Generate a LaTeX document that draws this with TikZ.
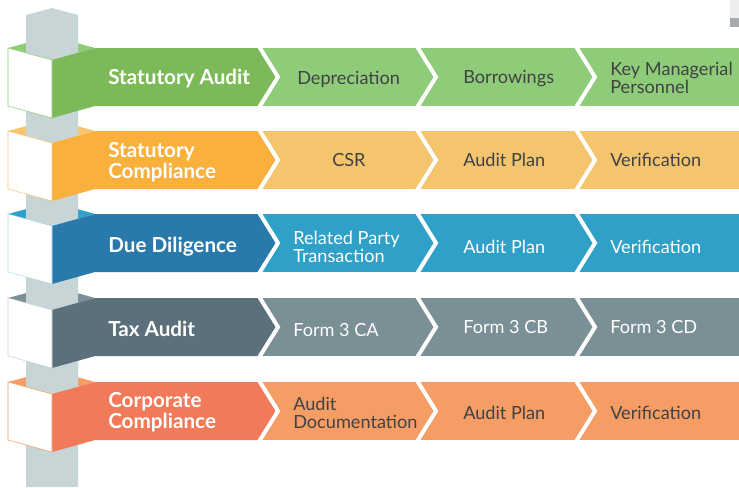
\documentclass[tikz,border=0pt]{standalone}
\usepackage{fontspec}
\setmainfont{Lato}
\definecolor{pillar}{RGB}{199,213,215}
\definecolor{grnD}{RGB}{124,186,89}
\definecolor{grnL}{RGB}{143,204,121}
\definecolor{orgD}{RGB}{249,176,60}
\definecolor{orgL}{RGB}{245,197,110}
\definecolor{bluD}{RGB}{41,122,170}
\definecolor{bluL}{RGB}{47,160,200}
\definecolor{slaD}{RGB}{91,112,122}
\definecolor{slaL}{RGB}{122,143,150}
\definecolor{corD}{RGB}{241,122,90}
\definecolor{corL}{RGB}{246,157,101}
\definecolor{txtgray}{RGB}{64,66,68}
\begin{document}
\begin{tikzpicture}[x=0.75pt,y=0.75pt,yscale=-1,xscale=1,
  mainlbl/.style={anchor=west,inner sep=0.75pt,align=left,text=white,font=\fontsize{15.5}{15.5}\selectfont\bfseries},
  sublbl/.style={anchor=west,inner sep=0.75pt,align=left,text=txtgray,font=\fontsize{13.6}{13.8}\selectfont},
  cutline/.style={draw=white,line width=3pt}]
\path[use as bounding box] (0,0) rectangle (739,487);

%Shape: Rectangle (top right corner)
\fill [color={rgb, 255:red, 238; green, 238; blue, 238 }] (730,0) rectangle (739,18) ;
\fill [color={rgb, 255:red, 167; green, 171; blue, 173 }] (730,18) rectangle (739,27) ;

%Shape: Top faces
\fill [grnL] (8,48) -- (52,36) -- (95,48) -- (52,60) -- cycle ;
\fill [orgL] (8,131) -- (52,119) -- (95,131) -- (52,143) -- cycle ;
\fill [bluL] (8,214) -- (52,202) -- (95,214) -- (52,226) -- cycle ;
\fill [slaL] (8,298) -- (52,286) -- (95,298) -- (52,310) -- cycle ;
\fill [corL] (8,382) -- (52,370) -- (95,382) -- (52,394) -- cycle ;

%Shape: Pillar
\fill [pillar] (26,15) -- (52,8) -- (78,15) -- (78,487) -- (26,487) -- cycle ;

%Shape: Light bands
\fill [grnL] (258,48) rectangle (739,106) ;
\fill [orgL] (258,131) rectangle (739,189) ;
\fill [bluL] (258,214) rectangle (739,272) ;
\fill [slaL] (258,298) rectangle (739,356) ;
\fill [corL] (258,382) rectangle (739,440) ;

%Shape: Main bands
\fill [grnD] (52,60) -- (95,48) -- (258,48) -- (276,77) -- (258,106) -- (95,106) -- (52,118) -- cycle ;
\fill [orgD] (52,143) -- (95,131) -- (258,131) -- (276,160) -- (258,189) -- (95,189) -- (52,201) -- cycle ;
\fill [bluD] (52,226) -- (95,214) -- (258,214) -- (276,243) -- (258,272) -- (95,272) -- (52,284) -- cycle ;
\fill [slaD] (52,310) -- (95,298) -- (258,298) -- (276,327) -- (258,356) -- (95,356) -- (52,368) -- cycle ;
\fill [corD] (52,394) -- (95,382) -- (258,382) -- (276,411) -- (258,440) -- (95,440) -- (52,452) -- cycle ;

%Shape: White faces
\draw [grnL,line width=0.4pt,fill=white] (8,48) -- (52,60) -- (52,118) -- (8,106) -- cycle ;
\draw [orgL,line width=0.4pt,fill=white] (8,131) -- (52,143) -- (52,201) -- (8,189) -- cycle ;
\draw [bluL!40,line width=0.4pt,fill=white] (8,214) -- (52,226) -- (52,284) -- (8,272) -- cycle ;
\draw [slaL!40,line width=0.4pt,fill=white] (8,298) -- (52,310) -- (52,368) -- (8,356) -- cycle ;
\draw [corL,line width=0.4pt,fill=white] (8,382) -- (52,394) -- (52,452) -- (8,440) -- cycle ;

%Straight Lines: chevron cuts
\draw [cutline] (258.1,45) -- (278,77) -- (258.1,109) ;
\draw [cutline] (416.1,45) -- (436,77) -- (416.1,109) ;
\draw [cutline] (575.1,45) -- (595,77) -- (575.1,109) ;
\draw [cutline] (258.1,128) -- (278,160) -- (258.1,192) ;
\draw [cutline] (416.1,128) -- (436,160) -- (416.1,192) ;
\draw [cutline] (575.1,128) -- (595,160) -- (575.1,192) ;
\draw [cutline] (258.1,211) -- (278,243) -- (258.1,275) ;
\draw [cutline] (416.1,211) -- (436,243) -- (416.1,275) ;
\draw [cutline] (575.1,211) -- (595,243) -- (575.1,275) ;
\draw [cutline] (258.1,295) -- (278,327) -- (258.1,359) ;
\draw [cutline] (416.1,295) -- (436,327) -- (416.1,359) ;
\draw [cutline] (575.1,295) -- (595,327) -- (575.1,359) ;
\draw [cutline] (258.1,379) -- (278,411) -- (258.1,443) ;
\draw [cutline] (416.1,379) -- (436,411) -- (416.1,443) ;
\draw [cutline] (575.1,379) -- (595,411) -- (575.1,443) ;

% Text Node
\draw (107,79) node (audit) [mainlbl] {Statutory Audit};
% Text Node
\draw (296,79) node (audit1) [sublbl] {Depreciation};
% Text Node
\draw (462,79) node (audit2) [sublbl] {Borrowings};
% Text Node
\draw (609,78) node (audit3) [sublbl] {Key Managerial\\Personnel};
% Text Node
\draw (107,162) node (compl) [mainlbl] {Statutory\\Compliance};
% Text Node
\draw (331,160) node (compl1) [sublbl] {CSR};
% Text Node
\draw (462,160) node (compl2) [sublbl] {Audit Plan};
% Text Node
\draw (609,160) node (compl3) [sublbl] {Verification};
% Text Node
\draw (107,247) node (dilig) [mainlbl] {Due Diligence};
% Text Node
\draw (292,247) node (dilig1) [sublbl,text=white] {Related Party\\Transaction};
% Text Node
\draw (462,247) node (dilig2) [sublbl,text=white] {Audit Plan};
% Text Node
\draw (609,247) node (dilig3) [sublbl,text=white] {Verification};
% Text Node
\draw (107,329) node (tax) [mainlbl] {Tax Audit};
% Text Node
\draw (292,330) node (tax1) [sublbl,text=white] {Form 3 CA};
% Text Node
\draw (462,327) node (tax2) [sublbl,text=white] {Form 3 CB};
% Text Node
\draw (609,327) node (tax3) [sublbl,text=white] {Form 3 CD};
% Text Node
\draw (107,412) node (corp) [mainlbl] {Corporate\\Compliance};
% Text Node
\draw (292,413) node (corp1) [sublbl] {Audit\\Documentation};
% Text Node
\draw (462,413) node (corp2) [sublbl] {Audit Plan};
% Text Node
\draw (609,413) node (corp3) [sublbl] {Verification};

\end{tikzpicture}
\end{document}
